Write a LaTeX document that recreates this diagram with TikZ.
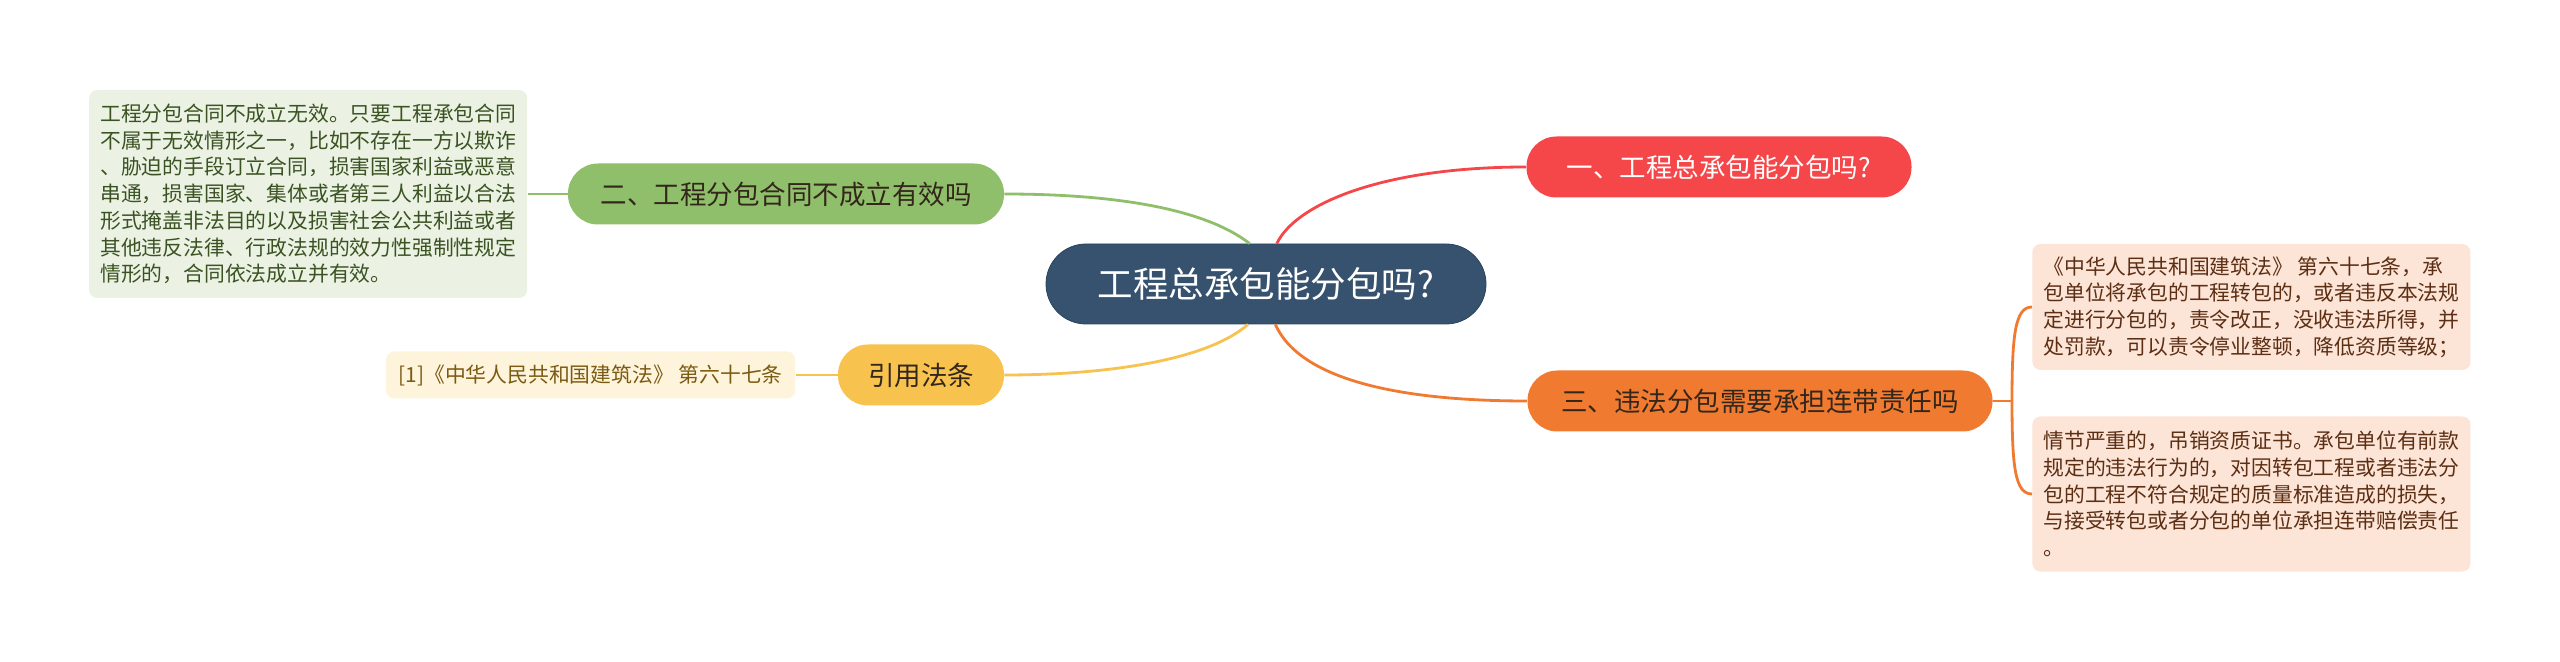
\documentclass[tikz,border=0pt]{standalone}
\usepackage{fontspec}
\setmainfont{Noto Sans CJK SC}
\usepackage{xcolor}
\usepackage{tikz}
\usetikzlibrary{positioning,calc}
\definecolor{navy}{HTML}{36526E}
\definecolor{darknavy}{HTML}{2A445E}
\definecolor{scarlet}{HTML}{F5464A}
\definecolor{tangerine}{HTML}{F07A30}
\definecolor{lighttangerine}{HTML}{FCE4D6}
\definecolor{darktangerine}{HTML}{5C2E14}
\definecolor{leaf}{HTML}{8FBF6B}
\definecolor{lightleaf}{HTML}{EBF2E3}
\definecolor{darkleaf}{HTML}{3B5323}
\definecolor{amber}{HTML}{F7C24E}
\definecolor{lightamber}{HTML}{FEF4DC}
\definecolor{darkamber}{HTML}{7B5A12}
\definecolor{ink}{HTML}{33261A}

\begin{document}
\begin{tikzpicture}[
  x=0.5pt,y=-0.5pt,
  root/.style={draw=darknavy,fill=navy,text=white,rounded corners=20pt,minimum width=220pt,minimum height=40pt,font=\fontsize{17.75}{20}\selectfont},
  branch/.style={rounded corners=15pt,minimum height=30.5pt,text=ink,font=\fontsize{13.25}{16}\selectfont},
  note/.style={rounded corners=4pt,align=left,inner xsep=5pt,inner ysep=5pt,font=\fontsize{10.4}{13.35}\selectfont},
  link/.style={line width=1.4pt}
]
\useasboundingbox (0,0) rectangle (2560,662);
\node[root] (c) at (1266,284) {工程总承包能分包吗?};
\node[branch,fill=scarlet,text=white,minimum width=192.5pt] (b1) at (1719,167) {一、工程总承包能分包吗?};
\node[branch,fill=leaf,minimum width=218pt] (b2) at (786,194) {二、工程分包合同不成立有效吗};
\node[branch,fill=tangerine,minimum width=232.5pt] (b3) at (1760,401) {三、违法分包需要承担连带责任吗};
\node[branch,fill=amber,minimum width=83pt] (law) at (921,375) {引用法条};
\node[note,fill=lightleaf,text=darkleaf,minimum width=219pt,minimum height=104pt,left=20pt of b2] (n2)
  {工程分包合同不成立无效。只要工程承包合同\\不属于无效情形之一，比如不存在一方以欺诈\\、胁迫的手段订立合同，损害国家利益或恶意\\串通，损害国家、集体或者第三人利益以合法\\形式掩盖非法目的以及损害社会公共利益或者\\其他违反法律、行政法规的效力性强制性规定\\情形的，合同依法成立并有效。};
\node[note,fill=lightamber,text=darkamber,minimum width=204.5pt,minimum height=23.5pt,left=21pt of law] (nlaw)
  {[1]《中华人民共和国建筑法》 第六十七条};
\node[note,fill=lighttangerine,text=darktangerine,minimum width=219pt,minimum height=63pt,anchor=west] (n31) at (2032,307)
  {《中华人民共和国建筑法》 第六十七条，承\\包单位将承包的工程转包的，或者违反本法规\\定进行分包的，责令改正，没收违法所得，并\\处罚款，可以责令停业整顿，降低资质等级；};
\node[note,fill=lighttangerine,text=darktangerine,minimum width=219pt,minimum height=77.5pt,anchor=west] (n32) at (2032,494)
  {情节严重的，吊销资质证书。承包单位有前款\\规定的违法行为的，对因转包工程或者违法分\\包的工程不符合规定的质量标准造成的损失，\\与接受转包或者分包的单位承担连带赔偿责任\\。};
\coordinate (j) at (2012,401);
\draw[link,scarlet] (c.75) .. controls (1295,205) and (1380,167) .. (b1.west);
\draw[link,leaf] (c.112) .. controls (1200,205) and (1100,194) .. (b2.east);
\draw[link,amber] (c.246) .. controls (1205,362) and (1100,375) .. (law.east);
\draw[link,tangerine] (c.283) .. controls (1300,380) and (1400,401) .. (b3.west);
\draw[link,leaf] (b2.west) -- (n2.east);
\draw[link,amber] (law.west) -- (nlaw.east);
\draw[link,tangerine] (b3.east) -- (j);
\draw[link,tangerine] (j) .. controls (2012,335) and (2015,307) .. (n31.west);
\draw[link,tangerine] (j) .. controls (2012,467) and (2015,494) .. (n32.west);
\end{tikzpicture}
\end{document}
